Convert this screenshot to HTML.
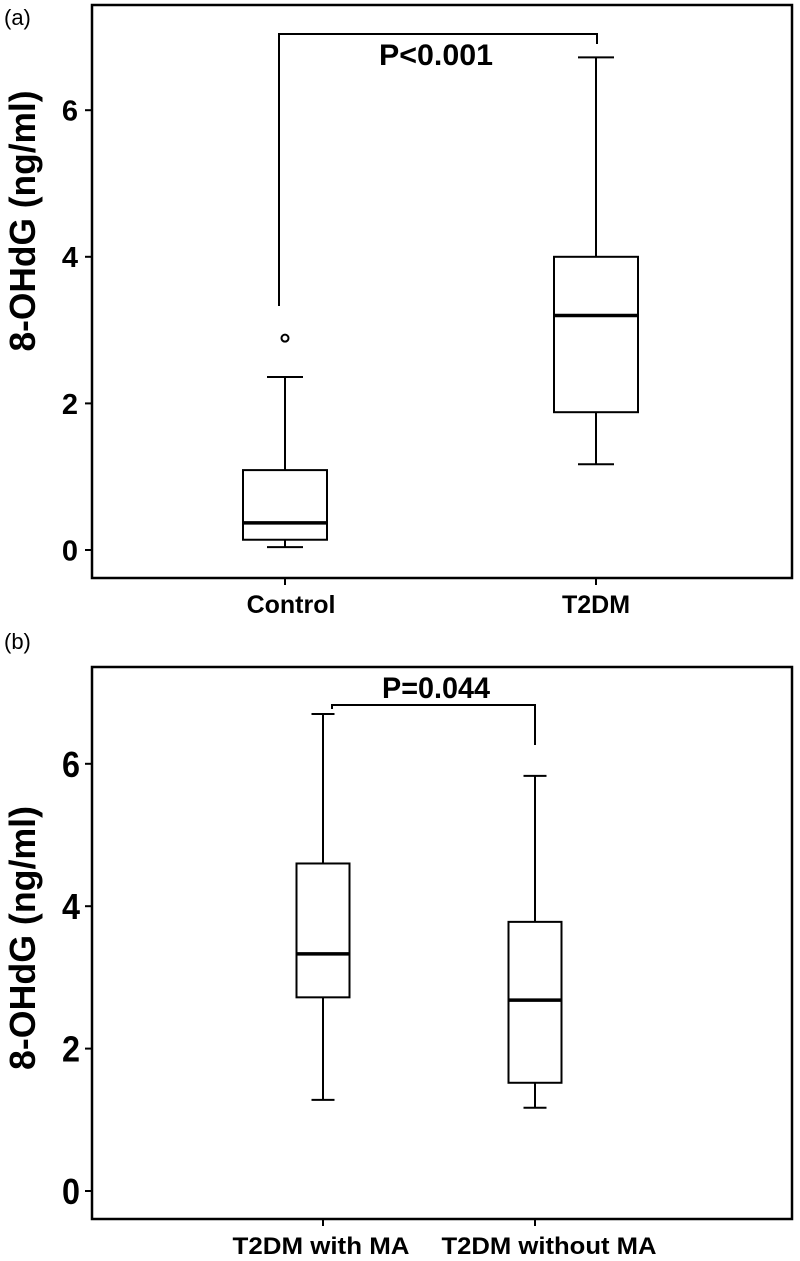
<!DOCTYPE html>
<html><head><meta charset="utf-8"><style>body{margin:0;background:#fff}svg{display:block}</style></head>
<body>
<svg id="chart" width="800" height="1261" xmlns="http://www.w3.org/2000/svg" font-family="Liberation Sans, sans-serif"></svg>
<script>
const catsA = ["Control", "T2DM"];
const minA = [0.04, 1.17];
const q1A = [0.14, 1.88];
const medA = [0.37, 3.2];
const q3A = [1.09, 4.0];
const maxA = [2.36, 6.72];
const outA = [[2.89], []];
const ticksA = [0, 2, 4, 6];

const catsB = ["T2DM with MA", "T2DM without MA"];
const minB = [1.28, 1.17];
const q1B = [2.72, 1.52];
const medB = [3.33, 2.68];
const q3B = [4.6, 3.78];
const maxB = [6.7, 5.83];
const ticksB = [0, 2, 4, 6];

const svg = document.getElementById('chart');
const NS = 'http://www.w3.org/2000/svg';
function mk(tag, attrs, parent) {
  const e = document.createElementNS(NS, tag);
  for (const k in attrs) e.setAttribute(k, attrs[k]);
  (parent || svg).appendChild(e);
  return e;
}
function txt(s, attrs) { const t = mk('text', attrs); t.textContent = s; return t; }

function panel(cfg) {
  const g = mk('g', {});
  
  
  const y = v => cfg.y0 - v * cfg.ppu;
  const x = i => cfg.xs[i];
  const frame = mk('rect', {x: 92, y: cfg.top, width: 700, height: cfg.bottom - cfg.top, fill: 'none', stroke: '#000', 'stroke-width': 2.5}, g);
  
  
  cfg.ticks.forEach(t => {
    const tl = mk('line', {x1: 85, x2: 92, y1: y(t), y2: y(t), stroke: '#000', 'stroke-width': 2}, g);
    
    
    const a = {x: cfg.narrow ? 80 : 78, y: y(t) + cfg.tfs * 0.36, 'text-anchor': 'end', 'font-size': cfg.tfs, 'font-weight': 'bold'};
    if (cfg.narrow) { a.textLength = 18; a.lengthAdjust = 'spacingAndGlyphs'; }
    const lb = txt(String(t), a);
    
    
  });
  const ta = {x: 0, y: 0, 'text-anchor': 'middle', 'font-size': 36, 'font-weight': 'bold', transform: `translate(35,${cfg.titleY}) rotate(-90)`, textLength: cfg.titleLen, lengthAdjust: 'spacingAndGlyphs'};
  const yt = txt('8-OHdG (ng/ml)', ta);
  
  
  cfg.cats.forEach((c, i) => {
    const cx = x(i), hw = cfg.bw / 2, cw = cfg.cw / 2;
    const xt = mk('line', {x1: cx, x2: cx, y1: cfg.bottom, y2: cfg.bottom + 7, stroke: '#000', 'stroke-width': 2}, g);
    
    
    const la = {x: cfg.lx[i], y: cfg.bottom + cfg.ldy, 'text-anchor': 'middle', 'font-size': cfg.lfs, 'font-weight': 'bold'};
    if (cfg.lw) { la.textLength = cfg.lw[i]; la.lengthAdjust = 'spacingAndGlyphs'; }
    const xl = txt(c, la);
    
    
    const bg = mk('g', {stroke: '#000', 'stroke-width': 2, fill: 'none'}, g);
    
    
    mk('line', {x1: cx, x2: cx, y1: y(cfg.max[i]), y2: y(cfg.q3[i])}, bg);
    mk('line', {x1: cx, x2: cx, y1: y(cfg.q1[i]), y2: y(cfg.min[i])}, bg);
    mk('line', {x1: cx - cw, x2: cx + cw, y1: y(cfg.max[i]), y2: y(cfg.max[i])}, bg);
    mk('line', {x1: cx - cw, x2: cx + cw, y1: y(cfg.min[i]), y2: y(cfg.min[i])}, bg);
    mk('rect', {x: cx - hw, y: y(cfg.q3[i]), width: cfg.bw, height: y(cfg.q1[i]) - y(cfg.q3[i]), fill: '#fff'}, bg);
    mk('line', {x1: cx - hw, x2: cx + hw, y1: y(cfg.med[i]), y2: y(cfg.med[i]), 'stroke-width': 3.5}, bg);
    (cfg.out ? cfg.out[i] : []).forEach(o => {
      const oc = mk('circle', {cx: cx, cy: y(o), r: 3.5}, bg);
      
      
    });
  });
  const br = mk('polyline', {points: cfg.bracket, fill: 'none', stroke: '#000', 'stroke-width': 2}, g);
  
  
  const pl = txt(cfg.p, {x: cfg.px, y: cfg.py, 'text-anchor': 'middle', 'font-size': 30, 'font-weight': 'bold', textLength: cfg.pw, lengthAdjust: 'spacingAndGlyphs'});
  
  
  const pn = txt(cfg.label, {x: 4, y: cfg.top + cfg.lbdy, 'font-size': 22});
  
  
}

panel({name: 'panel-a', top: 5, bottom: 578, y0: 550, ppu: 73.3, xs: [285, 596], bw: 84, cw: 36,
  cats: catsA, min: minA, q1: q1A, med: medA, q3: q3A, max: maxA, out: outA, ticks: ticksA, tfs: 29,
  titleY: 221, titleLen: 261, lx: [291, 596], ldy: 35, lfs: 25, lw: null, narrow: false, lbdy: 20,
  bracket: '279,306 279,34 597,34 597,44', p: 'P<0.001', px: 436, py: 65, pw: 114, label: '(a)'});
panel({name: 'panel-b', top: 667, bottom: 1219, y0: 1191, ppu: 71.2, xs: [323, 535], bw: 53, cw: 23,
  cats: catsB, min: minB, q1: q1B, med: medB, q3: q3B, max: maxB, out: null, ticks: ticksB, tfs: 36,
  titleY: 938, titleLen: 264, lx: [321, 549], ldy: 35, lfs: 24, lw: [177, 215], narrow: true, lbdy: -18,
  bracket: '332,709 332,705 535,705 535,745', p: 'P=0.044', px: 436, py: 698, pw: 108, label: '(b)'});
</script>
</body></html>
